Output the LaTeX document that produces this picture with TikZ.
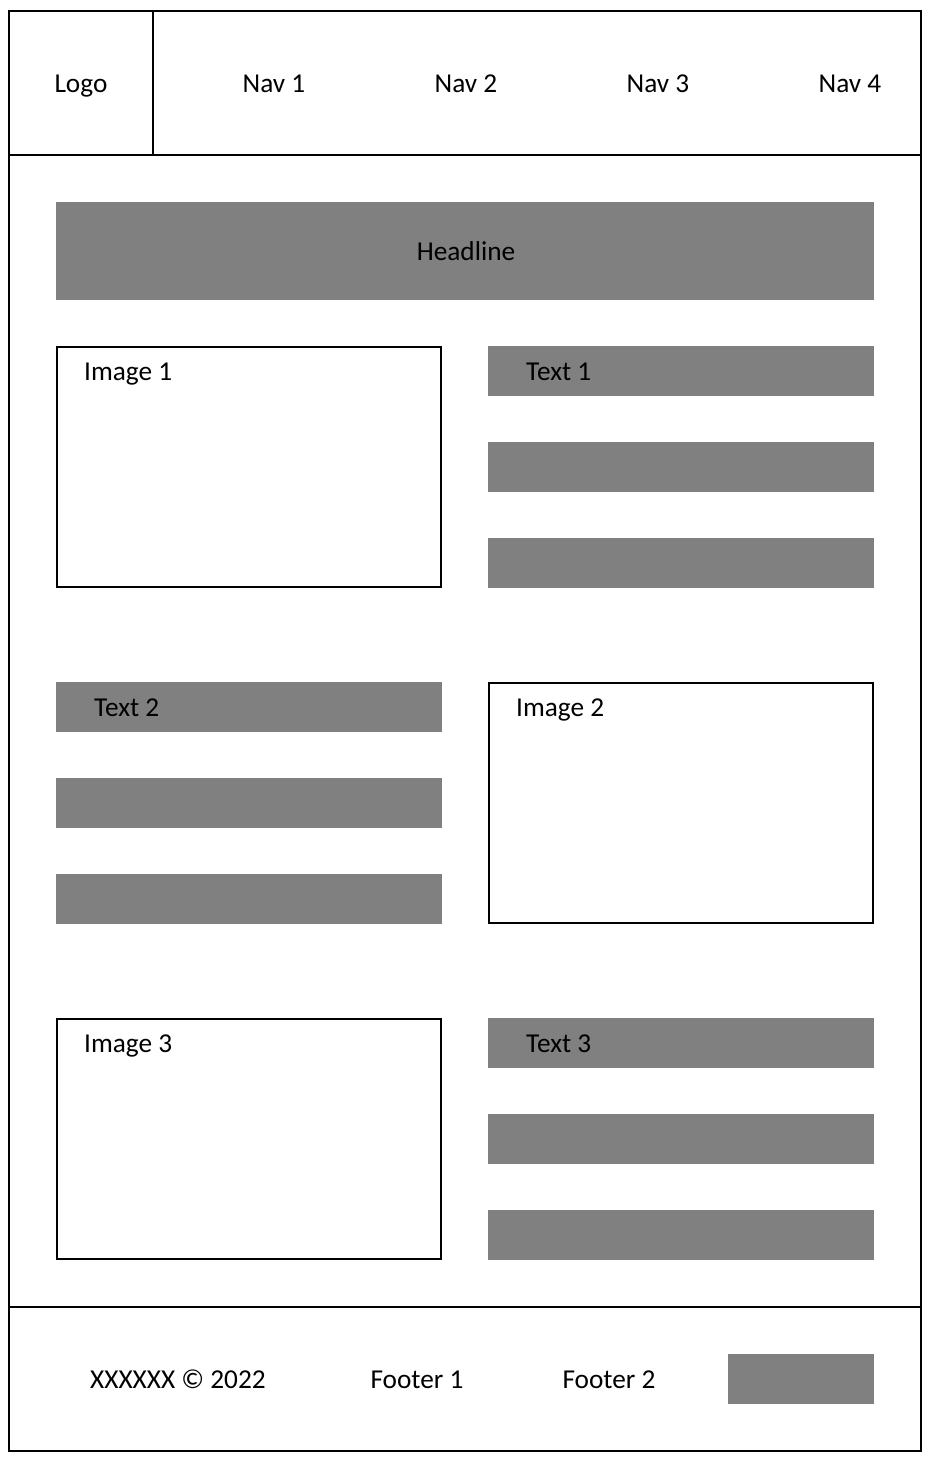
\documentclass[tikz,border=0pt]{standalone}
\usepackage{fontspec}
\setmainfont{Carlito}
\begin{document}
\begin{tikzpicture}[x=1pt,y=-1pt,
  frame/.style={draw=black,line width=2pt},
  imgbox/.style={draw=black,line width=2pt,fill=white},
  lbl/.style={inner sep=0pt,font=\fontsize{27.3}{31}\selectfont,anchor=base west},
  clbl/.style={inner sep=0pt,font=\fontsize{27.3}{31}\selectfont,anchor=base}]
\definecolor{barfill}{HTML}{808080}
\useasboundingbox (0,0) rectangle (930,1462);
\fill[white] (0,0) rectangle (930,1462);

% page frame, header and footer dividers
\draw[frame] (9,11) rectangle (921,1451);
\draw[frame] (9,155) -- (921,155);
\draw[frame] (153,11) -- (153,155);
\draw[frame] (9,1307) -- (921,1307);

% header
\node[clbl] (logo) at (81,92) {Logo};
\node[clbl] (nav1) at (274,92) {Nav 1};
\node[clbl] (nav2) at (466,92) {Nav 2};
\node[clbl] (nav3) at (658,92) {Nav 3};
\node[clbl] (nav4) at (850,92) {Nav 4};

% headline banner
\fill[barfill] (56,202) rectangle (874,300);
\node[clbl] (headline) at (466,260) {Headline};

% row 1
\draw[imgbox] (57,347) rectangle (441,587);
\node[lbl] (img1) at (84,380) {Image 1};
\fill[barfill] (488,346) rectangle (874,396);
\fill[barfill] (488,442) rectangle (874,492);
\fill[barfill] (488,538) rectangle (874,588);
\node[lbl] (txt1) at (526,380) {Text 1};

% row 2
\fill[barfill] (56,682) rectangle (442,732);
\fill[barfill] (56,778) rectangle (442,828);
\fill[barfill] (56,874) rectangle (442,924);
\node[lbl] (txt2) at (94,716) {Text 2};
\draw[imgbox] (489,683) rectangle (873,923);
\node[lbl] (img2) at (516,716) {Image 2};

% row 3
\draw[imgbox] (57,1019) rectangle (441,1259);
\node[lbl] (img3) at (84,1052) {Image 3};
\fill[barfill] (488,1018) rectangle (874,1068);
\fill[barfill] (488,1114) rectangle (874,1164);
\fill[barfill] (488,1210) rectangle (874,1260);
\node[lbl] (txt3) at (526,1052) {Text 3};

% footer
\node[lbl] (copy) at (90,1388) {XXXXXX © 2022};
\node[clbl] (foot1) at (417,1388) {Footer 1};
\node[clbl] (foot2) at (609,1388) {Footer 2};
\fill[barfill] (728,1354) rectangle (874,1404);
\end{tikzpicture}
\end{document}
